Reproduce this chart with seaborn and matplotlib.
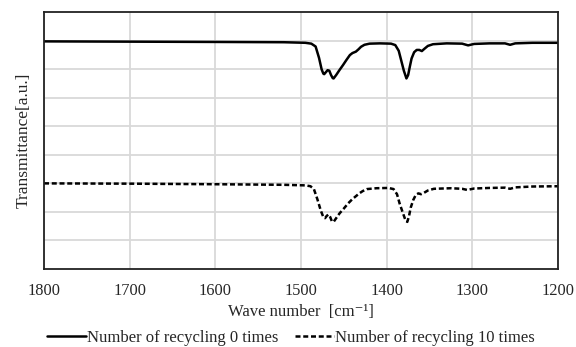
import matplotlib
matplotlib.use("Agg")
import matplotlib.pyplot as plt
import seaborn as sns
import pandas as pd

# Wavenumbers [cm-1] and transmittance values
wn_0 = [1800, 1700, 1600, 1520, 1495, 1488, 1483, 1479, 1476, 1474, 1473, 1471,
        1469, 1467, 1465, 1463, 1462, 1459, 1455, 1451, 1447, 1443, 1440, 1436,
        1433, 1430, 1426, 1420, 1408, 1395, 1390, 1386, 1383, 1380, 1377, 1375,
        1373, 1371, 1368, 1365, 1362, 1359, 1356, 1352, 1346, 1330, 1312, 1305,
        1298, 1280, 1262, 1256, 1250, 1230, 1200]
tr_0 = [7.98, 7.97, 7.96, 7.95, 7.93, 7.90, 7.80, 7.40, 7.00, 6.85, 6.83, 6.90,
        6.97, 6.95, 6.80, 6.69, 6.68, 6.80, 6.98, 7.15, 7.33, 7.50, 7.57, 7.62,
        7.70, 7.79, 7.86, 7.90, 7.91, 7.90, 7.85, 7.65, 7.30, 6.95, 6.68, 6.80,
        7.10, 7.38, 7.60, 7.68, 7.68, 7.64, 7.72, 7.82, 7.88, 7.91, 7.90, 7.84,
        7.89, 7.91, 7.91, 7.86, 7.91, 7.93, 7.93]

wn_10 = [1800, 1700, 1600, 1520, 1495, 1489, 1485, 1481, 1477, 1474, 1472, 1470,
         1468, 1466, 1464, 1462, 1459, 1455, 1450, 1445, 1440, 1436, 1432, 1428,
         1423, 1412, 1398, 1392, 1388, 1385, 1381, 1378, 1376, 1374, 1372, 1369,
         1366, 1363, 1360, 1357, 1352, 1345, 1325, 1312, 1306, 1298, 1280, 1262,
         1256, 1250, 1230, 1200]
tr_10 = [3.00, 2.99, 2.97, 2.95, 2.93, 2.90, 2.80, 2.45, 2.05, 1.82, 1.78, 1.86,
         1.91, 1.82, 1.67, 1.65, 1.78, 1.95, 2.12, 2.30, 2.45, 2.55, 2.65, 2.73,
         2.80, 2.83, 2.84, 2.80, 2.62, 2.30, 1.95, 1.70, 1.65, 1.85, 2.15, 2.42,
         2.60, 2.65, 2.62, 2.66, 2.75, 2.81, 2.83, 2.81, 2.77, 2.82, 2.84, 2.85,
         2.81, 2.86, 2.89, 2.90]

series_names = ["Number of recycling 0 times", "Number of recycling 10 times"]
x_ticks = [1800, 1700, 1600, 1500, 1400, 1300, 1200]

df = pd.concat([
    pd.DataFrame({"wn": wn_0, "T": tr_0, "series": series_names[0]}),
    pd.DataFrame({"wn": wn_10, "T": tr_10, "series": series_names[1]}),
], ignore_index=True)

sns.set_style("white")
plt.rcParams["font.family"] = ["Liberation Serif", "DejaVu Serif"]

fig = plt.figure(figsize=(5.76, 3.47), dpi=100)
ax = fig.add_axes([0.0764, 0.225, 0.8925, 0.7396])

sns.lineplot(data=df, x="wn", y="T", hue="series", style="series",
             palette=["black", "black"],
             dashes={series_names[0]: "", series_names[1]: (2.0, 1.1)},
             linewidth=1.8, sort=False, estimator=None, ax=ax)

ax.set_xlim(1800, 1200)
ax.set_ylim(0, 9)
ax.set_xticks(x_ticks)
ax.set_xticklabels([str(t) for t in x_ticks], fontsize=11.8)
ax.set_yticks(range(1, 9))
ax.set_yticklabels([])
ax.tick_params(axis="x", length=0, pad=10)
ax.tick_params(axis="y", length=0, pad=0)
ax.grid(True, color="#d9d9d9", linewidth=1.3)
ax.set_axisbelow(True)
for s in ax.spines.values():
    s.set_color("#222222")
    s.set_linewidth(1.3)

ax.set_xlabel("Wave number  [cm\u207b\u00b9]", fontsize=12, labelpad=4)
ax.set_ylabel("Transmittance[a.u.]", fontsize=12.5, labelpad=9)

handles, labels = ax.get_legend_handles_labels()
ax.legend(handles, labels, loc="center", bbox_to_anchor=(0.481, -0.27),
          ncol=2, frameon=False, fontsize=12, handlelength=2.3,
          handletextpad=0.1, columnspacing=1.0, borderaxespad=0)

fig.savefig("out.png", dpi=100)
